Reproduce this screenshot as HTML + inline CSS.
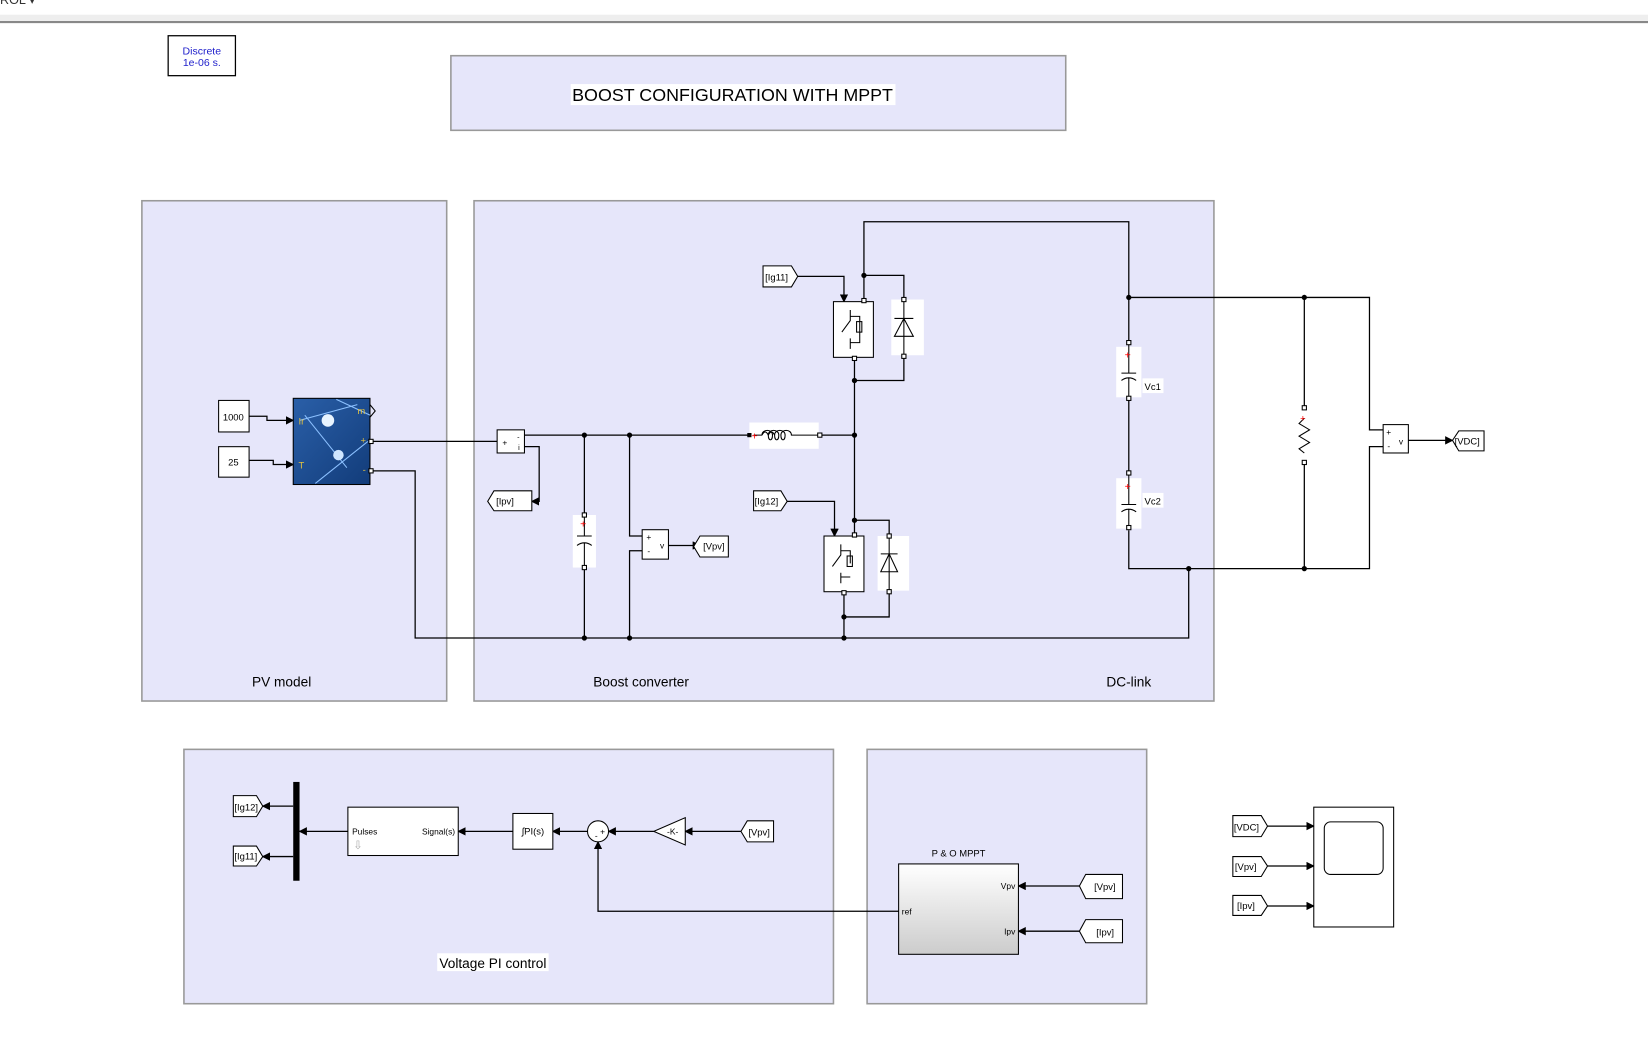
<!DOCTYPE html>
<html><head><meta charset="utf-8"><style>
html,body{margin:0;padding:0;background:#fff;overflow:hidden}
svg{display:block}
text{font-family:"Liberation Sans",sans-serif}
</style></head><body>
<svg width="1648" height="1051" viewBox="0 0 1568 1000" preserveAspectRatio="none" xmlns="http://www.w3.org/2000/svg">
<defs>
<marker id="ar" markerWidth="8" markerHeight="8" refX="7" refY="4" orient="auto" markerUnits="userSpaceOnUse"><path d="M0,0L8,4L0,8z" fill="#000"/></marker>
<linearGradient id="mg" x1="0" y1="0" x2="0" y2="1"><stop offset="0" stop-color="#fff"/><stop offset="1" stop-color="#ccc"/></linearGradient>
<linearGradient id="pv" x1="0" y1="0" x2="1" y2="1"><stop offset="0" stop-color="#2a5fa8"/><stop offset="1" stop-color="#123c7a"/></linearGradient>
</defs>
<rect x="0" y="14" width="1568" height="6" fill="#eee"/>
<line x1="0" y1="21" x2="1568" y2="21" stroke="#888" stroke-width="2"/>
<text x="0" y="4" font-size="12" font-family="Liberation Serif" fill="#333">ROL ▾</text>

<rect x="160" y="34" width="64" height="38" fill="#fff" stroke="#000" stroke-width="1.2"/>
<text x="192" y="52" font-size="10" fill="#22c" text-anchor="middle" font-family="DejaVu Sans">Discrete</text>
<text x="192" y="63" font-size="10" fill="#22c" text-anchor="middle" font-family="DejaVu Sans">1e-06 s.</text>

<rect x="429" y="53" width="585" height="71" fill="#e6e6fa" stroke="#999" stroke-width="1.5"/>
<rect x="543" y="80" width="309" height="20" fill="#fff"/>
<text x="697" y="96" font-size="17" text-anchor="middle">BOOST CONFIGURATION WITH MPPT</text>

<rect x="135" y="191" width="290" height="476" fill="#e6e6fa" stroke="#999" stroke-width="1.5"/>
<rect x="451" y="191" width="704" height="476" fill="#e6e6fa" stroke="#999" stroke-width="1.5"/>
<rect x="175" y="713" width="618" height="242" fill="#e6e6fa" stroke="#999" stroke-width="1.5"/>
<rect x="825" y="713" width="266" height="242" fill="#e6e6fa" stroke="#999" stroke-width="1.5"/>
<text x="268" y="653" font-size="13" text-anchor="middle">PV model</text>
<text x="610" y="653" font-size="13" text-anchor="middle">Boost converter</text>
<text x="1074" y="653" font-size="13" text-anchor="middle">DC-link</text>
<rect x="416" y="907" width="106" height="17" fill="#fff"/>
<text x="469" y="921" font-size="13" text-anchor="middle">Voltage PI control</text>

<g fill="none" stroke="#000" stroke-width="1.2">
<!-- PV inputs -->
<path d="M237,396H254V400H279" marker-end="url(#ar)"/>
<path d="M237,438H260V442H279" marker-end="url(#ar)"/>
<path d="M352,420H473"/>
<path d="M352,448H395V607H1131V541"/>
<path d="M499,414H713"/>
<path d="M499,425H513V477H506" marker-end="url(#ar)"/>
<path d="M556,414V490M556,540V607"/>
<path d="M599,414V510H611M599,607V524H611"/>
<path d="M636,519H666" marker-end="url(#ar)"/>
<path d="M779,414H813"/>
<path d="M813,340V510"/>
<path d="M822,287V211H1074V326"/>
<path d="M822,262H860V285"/>
<path d="M860,338V362H813"/>
<path d="M759,263H803V287" marker-end="url(#ar)"/>
<path d="M749,477H794V510" marker-end="url(#ar)"/>
<path d="M813,495H846V510"/>
<path d="M846,562V587H803"/>
<path d="M803,563V607"/>
<path d="M1074,380V450M1074,505V541H1303V425H1316"/>
<path d="M1074,283H1303V409H1316"/>
<path d="M1241,283V388M1241,440V541"/>
<path d="M1340,419H1382" marker-end="url(#ar)"/>
<!-- lower -->
<path d="M705,791H652" marker-end="url(#ar)"/>
<path d="M622,791H579" marker-end="url(#ar)"/>
<path d="M559,791H526" marker-end="url(#ar)"/>
<path d="M488,791H436" marker-end="url(#ar)"/>
<path d="M331,791H285" marker-end="url(#ar)"/>
<path d="M279,767H250" marker-end="url(#ar)"/>
<path d="M279,815H250" marker-end="url(#ar)"/>
<path d="M855,867H569V801" marker-end="url(#ar)"/>
<path d="M1027,843H969" marker-end="url(#ar)"/>
<path d="M1027,886H969" marker-end="url(#ar)"/>
<path d="M1206,786H1250" marker-end="url(#ar)"/>
<path d="M1206,824H1250" marker-end="url(#ar)"/>
<path d="M1206,862H1250" marker-end="url(#ar)"/>
</g>
<g fill="#000">
<circle cx="556" cy="414" r="2.5"/><circle cx="599" cy="414" r="2.5"/><circle cx="813" cy="414" r="2.5"/>
<circle cx="813" cy="362" r="2.5"/><circle cx="813" cy="495" r="2.5"/><circle cx="822" cy="262" r="2.5"/>
<circle cx="803" cy="587" r="2.5"/><circle cx="803" cy="607" r="2.5"/><circle cx="556" cy="607" r="2.5"/>
<circle cx="599" cy="607" r="2.5"/><circle cx="1074" cy="283" r="2.5"/><circle cx="1241" cy="283" r="2.5"/>
<circle cx="1241" cy="541" r="2.5"/><circle cx="1131" cy="541" r="2.5"/>
</g>

<!-- constants -->
<rect x="208" y="381" width="29" height="30" fill="#fff" stroke="#000"/>
<text x="222" y="400" font-size="9" text-anchor="middle">1000</text>
<rect x="208" y="425" width="29" height="29" fill="#fff" stroke="#000"/>
<text x="222" y="443" font-size="9" text-anchor="middle">25</text>
<!-- PV block -->
<rect x="279" y="379" width="73" height="82" fill="url(#pv)" stroke="#000"/>
<path d="M285,400L340,385M300,460L350,420M330,445L290,395M320,380L352,395" stroke="#8bc0ff" stroke-width="1" fill="none"/>
<circle cx="312" cy="400" r="6" fill="#e8f4ff"/><circle cx="322" cy="433" r="5" fill="#cfe6ff"/>
<text x="284" y="404" font-size="9" fill="#e0c040">Ir</text>
<text x="284" y="446" font-size="9" fill="#e0c040">T</text>
<text x="340" y="394" font-size="9" fill="#e0c040">m</text>
<text x="343" y="422" font-size="9" fill="#e0c040">+</text>
<text x="345" y="450" font-size="9" fill="#e0c040">-</text>
<path d="M352,385L357,391L352,397" fill="none" stroke="#000"/>
<rect x="351" y="418" width="4" height="4" fill="#fff" stroke="#000"/><rect x="351" y="446" width="4" height="4" fill="#fff" stroke="#000"/>

<!-- current meas -->
<rect x="473" y="409" width="26" height="22" fill="#fff" stroke="#000"/>
<text x="478" y="424" font-size="8">+</text><text x="492" y="418" font-size="7">-</text><text x="493" y="428" font-size="7">i</text>
<!-- goto tags -->
<g fill="#fff" stroke="#000">
<path d="M470,467H506V486H470L464,477Z"/>
<path d="M666,510H693V530H666L660,520Z"/>
<path d="M726,253H753L759,263L753,273H726Z"/>
<path d="M717,467H743L749,477L743,486H717Z"/>
<path d="M1388,410H1412V429H1388L1382,419Z"/>
<path d="M222,757H244L250,767L244,777H222Z"/>
<path d="M222,805H244L250,815L244,824H222Z"/>
<path d="M711,781H736V801H711L705,791Z"/>
<path d="M1033,832H1068V855H1033L1027,843Z"/>
<path d="M1033,875H1068V897H1033L1027,886Z"/>
<path d="M1173,776H1200L1206,786L1200,796H1173Z"/>
<path d="M1173,815H1200L1206,824L1200,834H1173Z"/>
<path d="M1173,852H1200L1206,862L1200,871H1173Z"/>
</g>
<g font-size="9">
<text x="472" y="480">[Ipv]</text><text x="669" y="523">[Vpv]</text>
<text x="728" y="267">[Ig11]</text><text x="718" y="480">[Ig12]</text>
<text x="1384" y="423">[VDC]</text>
<text x="223" y="771">[Ig12]</text><text x="223" y="818">[Ig11]</text>
<text x="712" y="795">[Vpv]</text><text x="1041" y="847">[Vpv]</text><text x="1043" y="890">[Ipv]</text>
<text x="1174" y="790">[VDC]</text><text x="1175" y="828">[Vpv]</text><text x="1177" y="865">[Ipv]</text>
</g>

<!-- capacitor boost -->
<rect x="545" y="490" width="22" height="50" fill="#fff"/>
<path d="M556,490V510M549,510H563M549,519Q556,514 563,519M556,516V540" fill="none" stroke="#000"/>
<text x="552" y="502" font-size="10" fill="red">+</text>
<!-- voltage meas -->
<rect x="611" y="504" width="25" height="28" fill="#fff" stroke="#000"/>
<text x="615" y="514" font-size="8">+</text><text x="616" y="527" font-size="8">-</text><text x="628" y="522" font-size="8">v</text>
<!-- inductor -->
<rect x="713" y="402" width="66" height="25" fill="#fff"/>
<path d="M717,414H725M725,414q3,-6 6,0q3,-6 6,0M731,414q0,0 0,0" fill="none" stroke="#000"/>
<path d="M725,414c0,-6 10,-6 10,0c0,6 -4,6 -4,0c0,-6 10,-6 10,0c0,6 -4,6 -4,0c0,-6 10,-6 10,0c0,6 -4,6 -4,0c0,-6 10,-6 10,0H779" fill="none" stroke="#000"/>
<text x="715" y="418" font-size="10" fill="red">+</text>
<rect x="711" y="412" width="4" height="4" fill="#000"/><rect x="778" y="412" width="4" height="4" fill="#fff" stroke="#000"/>

<!-- switches -->
<g fill="#fff" stroke="#000">
<rect x="793" y="287" width="38" height="53"/>
<rect x="784" y="510" width="38" height="53"/>
</g>
<g fill="none" stroke="#000">
<path d="M809,295V305L801,316M809,322V332M809,301H818V313M818,313V326H809"/><rect x="815" y="306" width="5" height="10"/>
<path d="M800,518V528L792,539M800,545V555M800,524H809V536M809,549H800"/><rect x="806" y="529" width="5" height="10"/>
</g>
<!-- diodes -->
<rect x="848" y="285" width="31" height="53" fill="#fff"/>
<path d="M860,285V338M851,320H869L860,303ZM851,303H869" fill="none" stroke="#000"/>
<rect x="835" y="510" width="30" height="52" fill="#fff"/>
<path d="M846,510V562M838,544H854L846,527ZM838,527H854" fill="none" stroke="#000"/>

<!-- DC caps -->
<rect x="1062" y="330" width="24" height="48" fill="#fff"/>
<path d="M1074,326V355M1067,355H1081M1067,362Q1074,357 1081,362M1074,359V380" fill="none" stroke="#000"/>
<text x="1070" y="341" font-size="10" fill="red">+</text>
<rect x="1062" y="455" width="24" height="48" fill="#fff"/>
<path d="M1074,450V480M1067,480H1081M1067,487Q1074,482 1081,487M1074,484V505" fill="none" stroke="#000"/>
<text x="1070" y="466" font-size="10" fill="red">+</text>
<rect x="1087" y="360" width="20" height="14" fill="#fff"/><text x="1089" y="371" font-size="9">Vc1</text>
<rect x="1087" y="469" width="20" height="14" fill="#fff"/><text x="1089" y="480" font-size="9">Vc2</text>
<!-- resistor -->
<path d="M1241,398L1236,403L1246,409L1236,415L1246,421L1236,427L1241,431" fill="none" stroke="#000"/>
<text x="1237" y="401" font-size="9" fill="red">+</text>
<!-- vdc meas -->
<rect x="1316" y="404" width="24" height="27" fill="#fff" stroke="#000"/>
<text x="1319" y="414" font-size="8">+</text><text x="1320" y="427" font-size="8">-</text><text x="1331" y="423" font-size="8">v</text>
<!-- terminals -->
<g fill="#fff" stroke="#000" stroke-width="1">
<rect x="820" y="284" width="4" height="4"/><rect x="811" y="339" width="4" height="4"/>
<rect x="811" y="507" width="4" height="4"/><rect x="801" y="562" width="4" height="4"/>
<rect x="858" y="283" width="4" height="4"/><rect x="858" y="337" width="4" height="4"/>
<rect x="844" y="508" width="4" height="4"/><rect x="844" y="561" width="4" height="4"/>
<rect x="1072" y="324" width="4" height="4"/><rect x="1072" y="377" width="4" height="4"/>
<rect x="1072" y="448" width="4" height="4"/><rect x="1072" y="500" width="4" height="4"/>
<rect x="1239" y="386" width="4" height="4"/><rect x="1239" y="438" width="4" height="4"/>
<rect x="554" y="488" width="4" height="4"/><rect x="554" y="538" width="4" height="4"/>
</g>

<!-- lower blocks -->
<rect x="279" y="744" width="6" height="94" fill="#000"/>
<rect x="331" y="768" width="105" height="46" fill="#fff" stroke="#000"/>
<text x="335" y="794" font-size="8">Pulses</text><text x="433" y="794" font-size="8" text-anchor="end">Signal(s)</text>
<text x="336" y="808" font-size="11" fill="#aaa">⇩</text>
<rect x="488" y="774" width="38" height="34" fill="#fff" stroke="#000"/>
<text x="507" y="794" font-size="9" text-anchor="middle">∫PI(s)</text>
<circle cx="569" cy="791" r="10" fill="#fff" stroke="#000"/>
<text x="571" y="794" font-size="8">+</text><text x="566" y="798" font-size="8">-</text>
<path d="M652,778V804L622,791Z" fill="#fff" stroke="#000"/>
<text x="640" y="794" font-size="8" text-anchor="middle">-K-</text>
<text x="912" y="815" font-size="9" text-anchor="middle">P &amp; O MPPT</text>
<rect x="855" y="822" width="114" height="86" fill="url(#mg)" stroke="#000"/>
<text x="966" y="846" font-size="8" text-anchor="end">Vpv</text>
<text x="966" y="889" font-size="8" text-anchor="end">Ipv</text>
<text x="858" y="870" font-size="8">ref</text>
<rect x="1250" y="768" width="76" height="114" fill="#fff" stroke="#000"/>
<rect x="1260" y="782" width="56" height="50" rx="6" fill="#fff" stroke="#000"/>
</svg>
</body></html>
